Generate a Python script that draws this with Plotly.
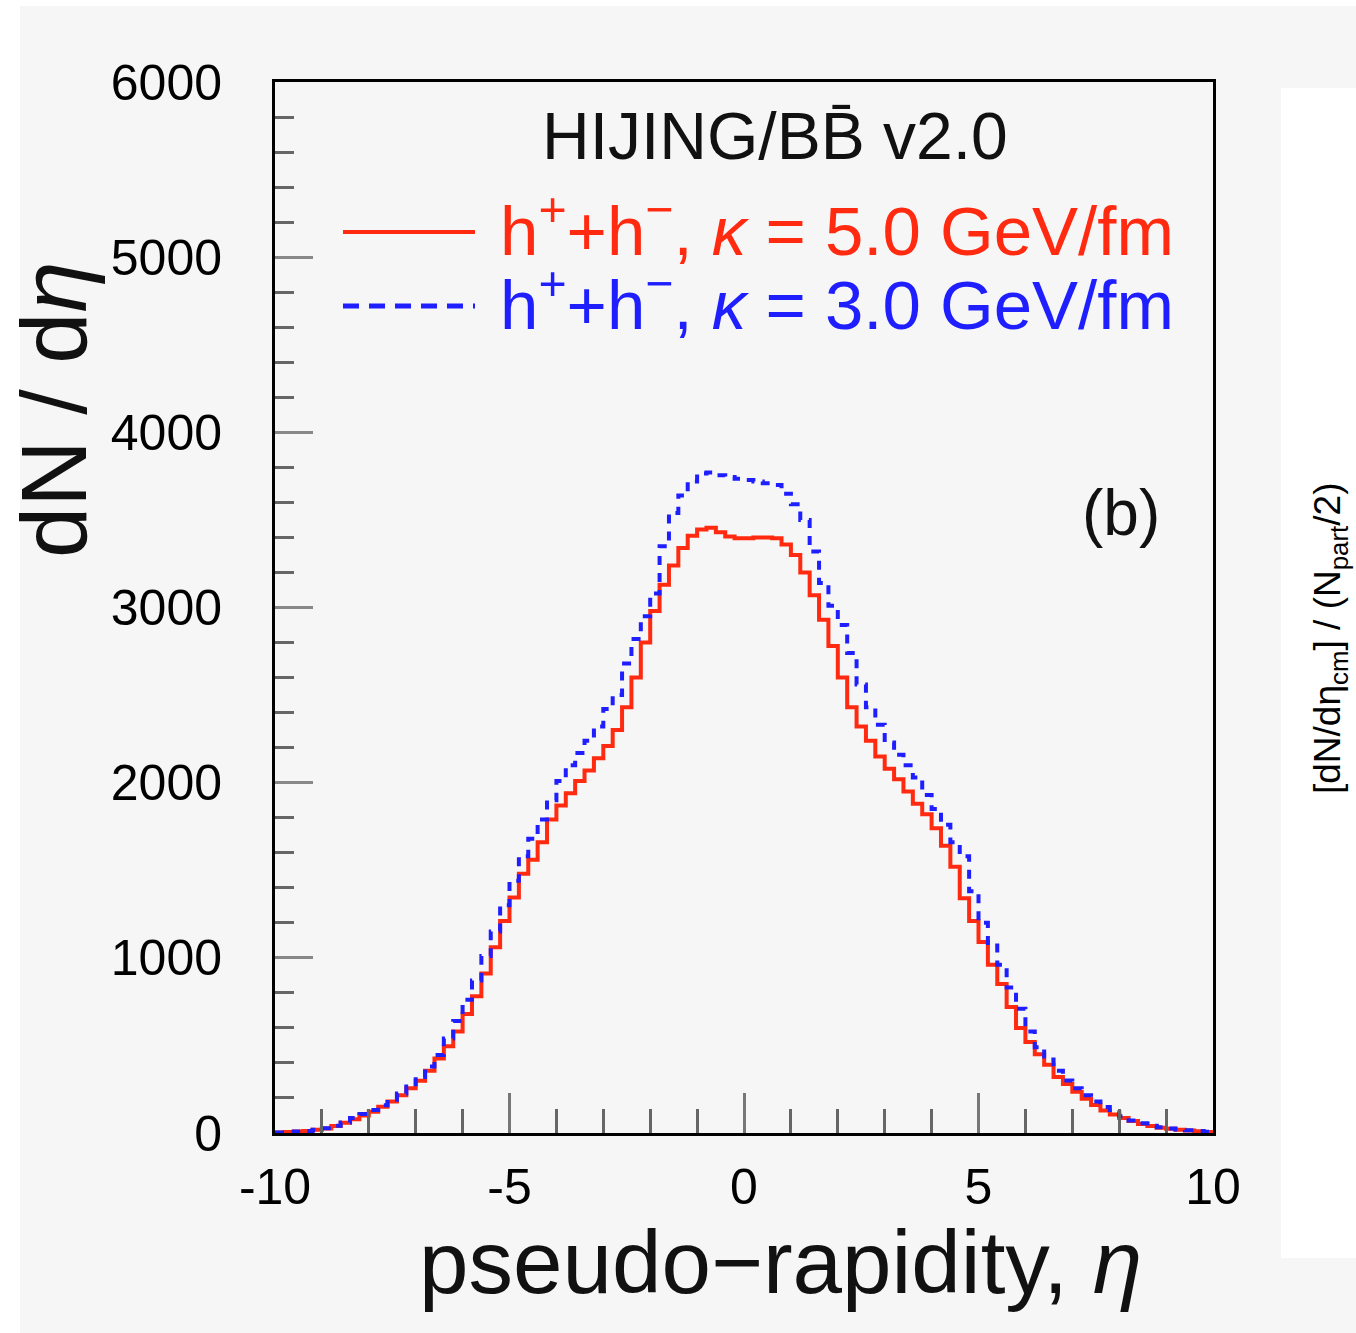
import plotly.graph_objects as go

# ---- data (bin width 0.2, eta from -10 to 10) ----
eta_edges_lo = -10.0
bin_width = 0.2

dndeta_kappa5 = [
    3, 5, 8, 12, 18, 26, 40, 58, 78, 100,
    122, 150, 180, 215, 255, 298, 355, 425, 495, 580,
    680, 780, 910, 1060, 1210, 1345, 1480, 1560, 1660, 1790,
    1870, 1940, 2010, 2070, 2140, 2210, 2300, 2430, 2600, 2800,
    2980, 3130, 3240, 3340, 3410, 3445, 3455, 3430, 3405, 3395,
    3395, 3400, 3400, 3395, 3360, 3300, 3200, 3070, 2930, 2780,
    2600, 2430, 2320, 2240, 2150, 2080, 2020, 1950, 1880, 1820,
    1740, 1640, 1520, 1340, 1210, 1090, 960, 850, 720, 600,
    520, 450, 390, 320, 280, 235, 195, 160, 128, 105,
    85, 68, 52, 40, 30, 24, 18, 14, 10, 6,
]

dndeta_kappa3 = [
    3, 5, 8, 12, 18, 27, 42, 60, 85, 108,
    132, 158, 190, 225, 265, 320, 380, 445, 540, 640,
    760, 870, 1010, 1150, 1300, 1440, 1580, 1680, 1790, 1900,
    2010, 2100, 2170, 2240, 2320, 2420, 2500, 2680, 2820, 2950,
    3080, 3350, 3540, 3640, 3720, 3765, 3770, 3755, 3745, 3735,
    3728, 3720, 3710, 3700, 3650, 3590, 3500, 3320, 3140, 3010,
    2900, 2740, 2560, 2430, 2330, 2230, 2160, 2100, 2030, 1930,
    1850, 1760, 1660, 1580, 1380, 1200, 1070, 960, 830, 710,
    580, 490, 420, 355, 300, 255, 215, 180, 148, 118,
    95, 72, 56, 42, 33, 26, 20, 15, 11, 7,
]

x_tick_vals = [-10, -5, 0, 5, 10]
x_tick_text = ["-10", "-5", "0", "5", "10"]
y_tick_vals = [0, 1000, 2000, 3000, 4000, 5000, 6000]
y_tick_text = ["0", "1000", "2000", "3000", "4000", "5000", "6000"]

# ---- figure geometry ----
W, H = 1356, 1333
L, R, T, B = 275, 1213, 82, 1133
PW, PH = R - L, B - T


def px(xp):
    return (xp - L) / PW


def py(yp):
    return (B - yp) / PH


def steps(vals):
    xs = [eta_edges_lo + i * bin_width for i in range(len(vals) + 1)]
    ys = list(vals) + [vals[-1]]
    return xs, ys


RED = "#ff2a10"
BLUE = "#1e1eff"
BG = "#f6f6f6"

fig = go.Figure()
xr, yr = steps(dndeta_kappa5)
xb, yb = steps(dndeta_kappa3)
fig.add_trace(go.Scatter(x=xr, y=yr, mode="lines", line=dict(color=RED, width=4, shape="hv"),
                         showlegend=False, hoverinfo="skip"))
fig.add_trace(go.Scatter(x=xb, y=yb, mode="lines",
                         line=dict(color=BLUE, width=4, shape="hv", dash="9px,8px"),
                         showlegend=False, hoverinfo="skip"))

tickfont = dict(family="Liberation Sans, Arial, sans-serif", size=50, color="black")

fig.update_layout(
    width=W, height=H,
    margin=dict(l=L, r=W - R, t=T, b=H - B, pad=0),
    paper_bgcolor="white",
    plot_bgcolor=BG,
    xaxis=dict(
        range=[-10, 10], tickvals=x_tick_vals, ticktext=x_tick_text,
        ticks="inside", ticklen=40, tickwidth=3, tickcolor="#777",
        minor=dict(dtick=1, tick0=-10, ticks="inside", ticklen=24, tickwidth=3, tickcolor="#666"),
        showline=True, linecolor="black", linewidth=3, mirror=True,
        showgrid=False, zeroline=False, tickfont=tickfont, ticklabelstandoff=8,
    ),
    yaxis=dict(
        range=[0, 6000], tickvals=y_tick_vals, ticktext=y_tick_text,
        ticks="inside", ticklen=38, tickwidth=3, tickcolor="#888",
        minor=dict(dtick=200, tick0=0, ticks="inside", ticklen=19, tickwidth=3, tickcolor="#666"),
        showline=True, linecolor="black", linewidth=3, mirror=True,
        showgrid=False, zeroline=False, tickfont=tickfont, ticklabelstandoff=40,
    ),
    font=dict(family="Liberation Sans, Arial, sans-serif", color="black"),
)

shapes = [
    # grey page background
    dict(type="rect", xref="paper", yref="paper", x0=px(20), x1=px(W), y0=py(6), y1=py(H),
         fillcolor=BG, line=dict(width=0), layer="below"),
    # white strip on the right
    dict(type="rect", xref="paper", yref="paper", x0=px(1281), x1=px(W), y0=py(88), y1=py(1258),
         fillcolor="white", line=dict(width=0), layer="below"),
    # legend line samples
    dict(type="line", xref="paper", yref="paper", x0=px(343), x1=px(475), y0=py(232), y1=py(232),
         line=dict(color=RED, width=4)),
    dict(type="line", xref="paper", yref="paper", x0=px(343), x1=px(475), y0=py(306), y1=py(306),
         line=dict(color=BLUE, width=5, dash="16px,10px")),
]
fig.update_layout(shapes=shapes)

ann = []
ann.append(dict(text="HIJING/BB\u0304 v2.0", x=px(775), y=py(136), xref="paper", yref="paper",
                showarrow=False, xanchor="center", yanchor="middle",
                font=dict(size=66, color="#111")))
ann.append(dict(text="h<sup>+</sup>+h<sup>\u2212</sup>, <i>\u03ba</i> = 5.0 GeV/fm", x=px(498), y=py(226),
                xref="paper", yref="paper", showarrow=False, xanchor="left", yanchor="middle",
                font=dict(size=69, color=RED)))
ann.append(dict(text="h<sup>+</sup>+h<sup>\u2212</sup>, <i>\u03ba</i> = 3.0 GeV/fm", x=px(498), y=py(300),
                xref="paper", yref="paper", showarrow=False, xanchor="left", yanchor="middle",
                font=dict(size=69, color=BLUE)))
ann.append(dict(text="(b)", x=px(1121), y=py(513), xref="paper", yref="paper", showarrow=False,
                xanchor="center", yanchor="middle", font=dict(size=64, color="#111")))
ann.append(dict(text="pseudo\u2212rapidity, <i>\u03b7</i>", x=px(780), y=py(1262), xref="paper", yref="paper",
                showarrow=False, xanchor="center", yanchor="middle", font=dict(size=89, color="#111")))
ann.append(dict(text="dN / d<i>\u03b7</i>", x=px(54), y=py(410), xref="paper", yref="paper",
                showarrow=False, xanchor="center", yanchor="middle", textangle=-90,
                font=dict(size=92, color="#111")))
ann.append(dict(text="[dN/d\u03b7<sub>cm</sub>] / (N<sub>part</sub>/2)", x=px(1330), y=py(638),
                xref="paper", yref="paper", showarrow=False, xanchor="center", yanchor="middle",
                textangle=-90, font=dict(size=37, color="black")))
fig.update_layout(annotations=ann)

fig.write_html("out.html")
